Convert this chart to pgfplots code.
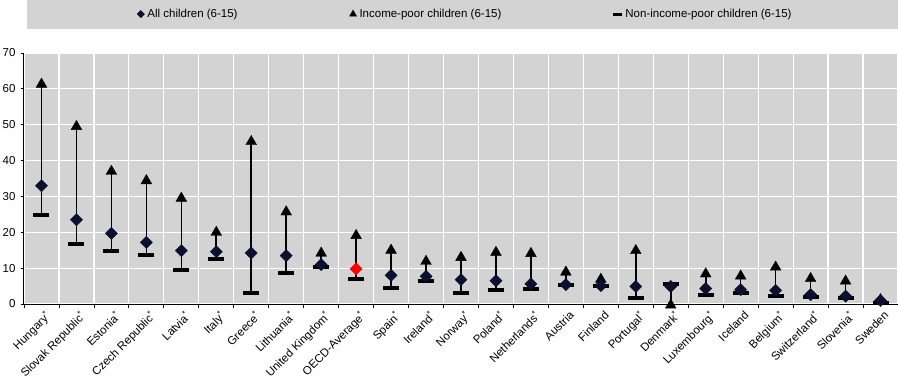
\documentclass[border=0pt]{standalone}
\usepackage{pgfplots}
\pgfplotsset{compat=1.18}
\usepackage{pgfplotstable}
\usepackage{fontspec}
\setmainfont{Liberation Sans}
\definecolor{bggray}{RGB}{211,211,211}
\definecolor{navy}{RGB}{12,16,48}

\pgfplotstableread{
x all poor non c
1 33.0 61.7 24.7 a
2 23.5 49.9 16.6 a
3 19.7 37.4 14.9 a
4 17.2 34.8 13.7 a
5 14.9 29.9 9.5 a
6 14.6 20.4 12.5 a
7 14.2 45.7 3.2 a
8 13.5 26.1 8.7 a
9 11.0 14.6 10.3 a
10 9.8 19.5 7.0 b
11 8.0 15.4 4.5 a
12 7.7 12.3 6.3 a
13 6.8 13.4 3.2 a
14 6.5 14.8 3.8 a
15 5.6 14.5 4.2 a
16 5.4 9.3 5.2 a
17 5.1 7.3 5.0 a
18 4.9 15.3 1.6 a
19 4.9 0.1 5.6 a
20 4.3 8.8 2.6 a
21 4.0 8.2 3.2 a
22 3.8 10.7 2.1 a
23 2.6 7.5 1.9 a
24 2.2 6.8 1.6 a
25 1.0 1.6 0.4 a
}\datatable

\begin{document}
\begin{tikzpicture}[x=1pt,y=1pt]
\useasboundingbox (0,0) rectangle (898,378);
\fill[bggray] (27,349) rectangle (898,378);
\begin{axis}[
  at={(24pt,74pt)}, anchor=south west, scale only axis,
  width=874pt, height=251pt,
  xmin=0.5, xmax=25.5, ymin=0, ymax=70,
  clip=false,
  axis background/.style={fill=bggray},
  axis x line*=bottom, axis y line*=left,
  axis line style={black, line width=1pt},
  ytick={0,10,...,70},
  ymajorgrids, major grid style={white, line width=1.2pt},
  xtick={1,...,25},
  major x tick style={draw=none},
  minor xtick={0.5,1.5,...,25.5},
  xminorgrids, minor grid style={white, line width=1.2pt},
  minor tick length=4pt, major tick length=3pt,
  tick align=outside,
  tick style={black, line width=0.8pt},
  tick label style={font=\fontsize{11.5}{13}\selectfont},
  yticklabel style={xshift=-2pt},
  /pgf/number format/assume math mode=true,
  xticklabels={Hungary\textsuperscript{*},Slovak Republic\textsuperscript{*},Estonia\textsuperscript{*},Czech Republic\textsuperscript{*},Latvia\textsuperscript{*},Italy\textsuperscript{*},Greece\textsuperscript{*},Lithuania\textsuperscript{*},United Kingdom\textsuperscript{*},OECD-Average\textsuperscript{*},Spain\textsuperscript{*},Ireland\textsuperscript{*},Norway\textsuperscript{*},Poland\textsuperscript{*},Netherlands\textsuperscript{*},Austria,Finland,Portugal\textsuperscript{*},Denmark\textsuperscript{*},Luxembourg\textsuperscript{*},Iceland,Belgium\textsuperscript{*},Switzerland\textsuperscript{*},Slovenia\textsuperscript{*},Sweden},
  xticklabel style={rotate=45, anchor=north east, inner sep=1pt, yshift=-3pt, xshift=1pt},
  legend image code/.code={\draw[#1] plot coordinates {(4pt,0pt)};},
  legend style={at={(0.505,1.155)}, anchor=center, draw=none, fill=none,
    legend columns=3, font=\fontsize{11.5}{13}\selectfont,
    /tikz/every even column/.append style={column sep=110pt},
    /tikz/every odd column/.append style={column sep=1pt}},
  legend cell align=left,
]
\addlegendimage{only marks, mark=square*, mark size=2.6pt, mark options={rotate=45, fill=navy, draw=navy}}
\addlegendentry{All children (6-15)}
\addlegendimage{only marks, mark=triangle*, mark size=4pt, mark options={fill=black, draw=black}}
\addlegendentry{Income-poor children (6-15)}
\addlegendimage{only marks, mark=-, mark size=4.5pt, mark options={draw=black, line width=3pt}}
\addlegendentry{Non-income-poor children (6-15)}

\addplot[mark=none, draw=none, forget plot,
  error bars/.cd, y dir=plus, y explicit,
  error bar style={draw=black, line width=1.6pt}, error mark=none]
  table[x=x, y=non, y error expr=\thisrow{poor}-\thisrow{non}] {\datatable};
\addplot[only marks, forget plot, mark=-, mark size=8pt,
  mark options={draw=black, line width=4pt}]
  table[x=x, y=non] {\datatable};
\addplot[only marks, forget plot, mark=triangle*, mark size=6.2pt,
  mark options={fill=black, draw=black, yshift=-1.5pt}]
  table[x=x, y=poor] {\datatable};
\addplot[scatter, only marks, forget plot, mark=square*, mark size=4.3pt,
  scatter src=explicit symbolic,
  scatter/classes={a={mark=square*, rotate=45, fill=navy, draw=navy}, b={mark=square*, rotate=45, fill=red, draw=red}}]
  table[x=x, y=all, meta=c] {\datatable};
\end{axis}
\end{tikzpicture}
\end{document}
